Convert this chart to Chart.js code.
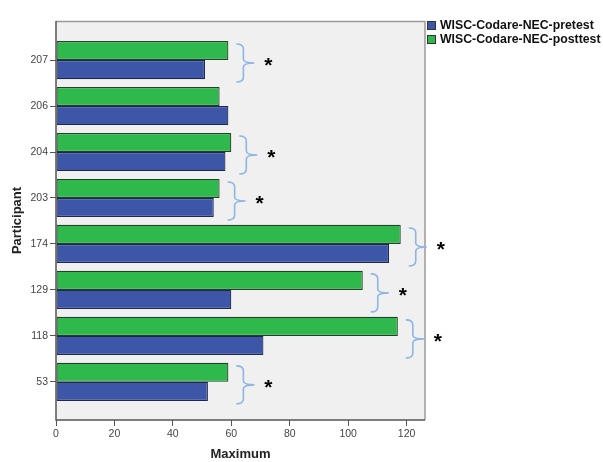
<!DOCTYPE html>
<html>
<head>
<meta charset="utf-8">
<script src="https://cdn.jsdelivr.net/npm/chart.js@4/dist/chart.umd.min.js"></script>
<style>
  html, body { margin: 0; padding: 0; background: #fff; }
  #wrap { width: 603px; height: 462px; position: relative; }
</style>
</head>
<body>
<div id="wrap"><canvas id="c" width="603" height="462"></canvas></div>
<script>
// Participants listed top to bottom
const participants = ['207', '206', '204', '203', '174', '129', '118', '53'];
const pretest  = [51, 59, 58, 54, 114, 60, 71, 52];
const posttest = [59, 56, 60, 56, 118, 105, 117, 59];
// Pairs marked with a brace and an asterisk
const significant = [true, false, true, true, true, true, true, true];
const seriesNames = ['WISC-Codare-NEC-pretest', 'WISC-Codare-NEC-posttest'];
const xTicks = [0, 20, 40, 60, 80, 100, 120];

const BLUE = '#3d56a8';
const GREEN = '#2fb84c';

const toPoints = arr => arr.map((v, i) => ({ x: v, y: i }));

// Plot background, frame, braces, asterisks and legend
const decor = {
  id: 'decor',
  beforeDraw(chart) {
    const { ctx, chartArea: a } = chart;
    ctx.save();
    ctx.fillStyle = '#f0f0f0';
    ctx.fillRect(a.left, a.top, a.right - a.left, a.bottom - a.top);
    ctx.restore();
  },
  afterDatasetsDraw(chart) {
    const { ctx, chartArea: a, scales } = chart;
    const xs = scales.x, ys = scales.y;
    ctx.save();
    // frame
    ctx.strokeStyle = '#9a9a9a';
    ctx.lineWidth = 1.5;
    ctx.beginPath();
    ctx.moveTo(a.left, a.top + 0.5);
    ctx.lineTo(a.right, a.top + 0.5);
    ctx.lineTo(a.right, a.bottom);
    ctx.stroke();
    ctx.strokeStyle = '#555';
    ctx.beginPath();
    ctx.moveTo(a.left, a.top);
    ctx.lineTo(a.left, a.bottom);
    ctx.lineTo(a.right, a.bottom);
    ctx.stroke();

    // braces
    participants.forEach((p, i) => {
      if (!significant[i]) return;
      const top = Math.max(pretest[i], posttest[i]);
      const x0 = xs.getPixelForValue(top) + 8;
      const cy = ys.getPixelForValue(i);
      const y0 = cy - 16, y1 = cy + 22, ym = cy + 3;
      const xv = x0 + 7, xm = x0 + 18;
      ctx.strokeStyle = '#8db6e2';
      ctx.lineWidth = 1.6;
      ctx.beginPath();
      ctx.moveTo(x0, y0);
      ctx.quadraticCurveTo(xv, y0, xv, y0 + 5);
      ctx.lineTo(xv, ym - 4);
      ctx.quadraticCurveTo(xv, ym, xm, ym);
      ctx.moveTo(xm, ym);
      ctx.quadraticCurveTo(xv, ym, xv, ym + 4);
      ctx.lineTo(xv, y1 - 5);
      ctx.quadraticCurveTo(xv, y1, x0, y1);
      ctx.stroke();
      ctx.fillStyle = '#000';
      ctx.font = 'bold 21px "Liberation Sans", Arial, sans-serif';
      ctx.textAlign = 'center';
      ctx.textBaseline = 'middle';
      ctx.fillText('*', x0 + 32, cy + 6);
    });

    // legend
    const colors = [BLUE, GREEN];
    ctx.font = 'bold 12.3px "Liberation Sans", Arial, sans-serif';
    ctx.textAlign = 'left';
    ctx.textBaseline = 'middle';
    seriesNames.forEach((name, k) => {
      const ly = 26 + k * 14;
      ctx.fillStyle = colors[k];
      ctx.fillRect(427, ly - 5, 9, 9);
      ctx.strokeStyle = '#333';
      ctx.lineWidth = 1;
      ctx.strokeRect(427.5, ly - 4.5, 8, 8);
      ctx.fillStyle = '#111';
      ctx.fillText(name, 440, ly);
    });
    ctx.restore();
  }
};

new Chart(document.getElementById('c'), {
  type: 'bar',
  data: {
    datasets: [
      { label: seriesNames[1], data: toPoints(posttest), backgroundColor: GREEN,
        borderColor: '#24402a', borderWidth: 1.2, borderSkipped: false },
      { label: seriesNames[0], data: toPoints(pretest), backgroundColor: BLUE,
        borderColor: '#1f2a4a', borderWidth: 1.2, borderSkipped: false }
    ]
  },
  options: {
    indexAxis: 'y',
    responsive: false,
    animation: false,
    layout: { padding: { left: 0, top: 21, right: 178, bottom: 0 } },
    datasets: { bar: { categoryPercentage: 0.83, barPercentage: 1.0, grouped: true } },
    plugins: { legend: { display: false }, tooltip: { enabled: false } },
    scales: {
      x: {
        type: 'linear',
        min: 0, max: 126.3,
        afterBuildTicks: s => { s.ticks = xTicks.map(v => ({ value: v })); },
        afterFit: s => { s.height = 42; },
        border: { display: false },
        grid: { drawOnChartArea: false, offset: false, tickLength: 6, color: '#555', lineWidth: 1 },
        ticks: { color: '#444', padding: 2, font: { family: '"Liberation Sans", Arial, sans-serif', size: 10.5 } },
        title: { display: true, text: 'Maximum', color: '#222', padding: { top: 4, bottom: 0 },
          font: { family: '"Liberation Sans", Arial, sans-serif', size: 13, weight: 'bold' } }
      },
      y: {
        type: 'linear',
        reverse: true,
        offset: false,
        min: -0.85, max: 7.83,
        afterBuildTicks: s => { s.ticks = participants.map((p, i) => ({ value: i })); },
        afterFit: s => { s.width = 56; },
        border: { display: false },
        grid: { drawOnChartArea: false, offset: false, tickLength: 6, color: '#555', lineWidth: 1 },
        ticks: { color: '#444', padding: 2, callback: v => participants[v],
          font: { family: '"Liberation Sans", Arial, sans-serif', size: 10.5 } },
        title: { display: true, text: 'Participant', color: '#222', padding: { top: 10, bottom: 4 },
          font: { family: '"Liberation Sans", Arial, sans-serif', size: 13, weight: 'bold' } }
      }
    }
  },
  plugins: [decor]
});
</script>
</body>
</html>
